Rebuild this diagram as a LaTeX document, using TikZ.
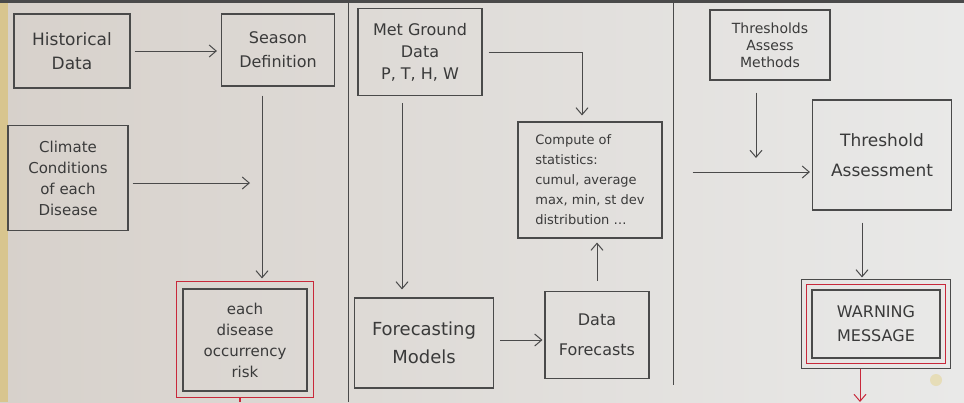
\documentclass[tikz,border=0pt]{standalone}
\usepackage{fontspec}
\setmainfont{DejaVu Sans}
\usetikzlibrary{arrows.meta}
\definecolor{ink}{HTML}{3A3A3A}
\definecolor{pen}{HTML}{4A4A4A}
\definecolor{redpen}{HTML}{C8283A}
\definecolor{paperL}{HTML}{D7D1CB}
\definecolor{paperR}{HTML}{E9E9E8}
\definecolor{strip}{HTML}{D8C58E}
\definecolor{pinc}{HTML}{E6DDB8}
\begin{document}
\begin{tikzpicture}[x=1pt,y=-1pt,
  box/.style={draw=pen, line width=1.1pt, text=ink, align=center, inner sep=2pt,
    font=\fontsize{16}{20}\selectfont},
  arr/.style={draw=pen, line width=1pt, -{Straight Barb[length=7pt,width=12pt]}},
  divider/.style={draw=pen, line width=0.9pt}]
\useasboundingbox (0,0) rectangle (964,402);
\shade[left color=paperL, right color=paperR] (0,0) rectangle (964,402);
\fill[strip] (0,0) rectangle (8,402);
\fill[pen] (0,0) rectangle (964,3);
% dividers
\draw[divider] (348,3) -- (348,402);
\draw[divider] (673,3) -- (673,385);
% nodes
\node[box, minimum width=116, minimum height=74, font=\fontsize{17}{24}\selectfont] (hist) at (72,51) {Historical\\Data};
\node[box, minimum width=113, minimum height=72, font=\fontsize{16}{24}\selectfont] (season) at (278,50) {Season\\Definition};
\node[box, minimum width=120, minimum height=105, font=\fontsize{15}{21}\selectfont] (climate) at (68,178) {Climate\\Conditions\\of each\\Disease};
\node[box, minimum width=124, minimum height=102, font=\fontsize{15}{21}\selectfont] (risk) at (245,340) {each\\disease\\occurrency\\risk};
\draw[redpen, line width=1pt] ([shift={(-6pt,7pt)}]risk.north west) rectangle ([shift={(6pt,-6pt)}]risk.south east);
\node[box, minimum width=124, minimum height=87, font=\fontsize{16}{22}\selectfont] (met) at (420,52) {Met Ground\\Data\\P, T, H, W};
\node[box, minimum width=144, minimum height=116, align=left, font=\fontsize{13}{20}\selectfont] (comp) at (590,180) {Compute of\\statistics:\\cumul, average\\max, min, st dev\\distribution \dots};
\node[box, minimum width=139, minimum height=90, font=\fontsize{18}{28}\selectfont] (fmod) at (424,343) {Forecasting\\Models};
\node[box, minimum width=104, minimum height=87, font=\fontsize{16}{30}\selectfont] (dfor) at (597,335) {Data\\Forecasts};
\node[box, minimum width=120, minimum height=70, font=\fontsize{14}{17}\selectfont] (tam) at (770,45) {Thresholds\\Assess\\Methods};
\node[box, minimum width=139, minimum height=110, font=\fontsize{17}{30}\selectfont] (tas) at (882,155) {Threshold\\Assessment};
\node[box, minimum width=128, minimum height=68, font=\fontsize{16}{24}\selectfont] (warn) at (876,324) {WARNING\\MESSAGE};
\draw[redpen, line width=1pt] ([shift={(-5pt,5pt)}]warn.north west) rectangle ([shift={(5pt,-5pt)}]warn.south east);
\draw[pen, line width=1pt] ([shift={(-10pt,10pt)}]warn.north west) rectangle ([shift={(10pt,-10pt)}]warn.south east);
% free-end coordinates
\coordinate (climEnd) at (250,183);
\coordinate (methEnd) at (756,158);
\coordinate (warnEnd) at (860,402);
\coordinate (riskEnd) at (240,402);
\coordinate (metTurn) at (582,52);
% connectors
\draw[arr, shorten <=4pt, shorten >=4pt] (hist.east) -- (season.west |- hist.east);
\draw[arr, shorten <=4pt] (climate.east |- climEnd) -- (climEnd);
\draw[arr, shorten <=9pt, shorten >=10pt] (season.south -| 262,0) -- (risk.north -| 262,0);
\draw[arr, shorten <=6pt, shorten >=6pt] (met.east) -- (metTurn) -- (comp.north -| metTurn);
\draw[arr, shorten <=7pt, shorten >=8pt] (met.south -| 402,0) -- (fmod.north -| 402,0);
\draw[arr, shorten <=6pt, shorten >=2pt] (fmod.east |- 0,340) -- (dfor.west |- 0,340);
\draw[arr, shorten <=10pt, shorten >=4pt] (dfor.north) -- (comp.south -| dfor.north);
\draw[arr, shorten <=30pt, shorten >=2pt] (comp.east |- 0,172) -- (tas.west |- 0,172);
\draw[arr, shorten <=12pt] (tam.south -| methEnd) -- (methEnd);
\draw[arr, shorten <=12pt, shorten >=12pt] (tas.south -| 862,0) -- (warn.north -| 862,0);
\draw[arr, draw=redpen, shorten <=10pt] (warn.south -| warnEnd) -- (warnEnd);
\draw[redpen, line width=1.5pt, shorten <=6pt] (risk.south -| riskEnd) -- (riskEnd);
% pin
\fill[pinc] (936,380) circle (6);
\end{tikzpicture}
\end{document}
